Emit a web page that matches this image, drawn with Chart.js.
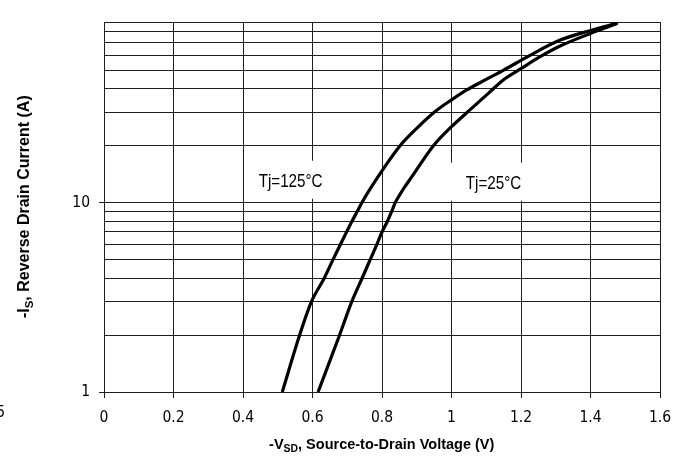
<!DOCTYPE html>
<html>
<head>
<meta charset="utf-8">
<script src="https://cdn.jsdelivr.net/npm/chart.js@4/dist/chart.umd.min.js"></script>
<style>
html,body{margin:0;padding:0;background:#fff;}
#wrap{width:686px;height:457px;position:relative;}
</style>
</head>
<body>
<div id="wrap"><canvas id="c" width="686" height="457"></canvas></div>
<script>
// ---- data ----
const v125 = [0.513, 0.563, 0.597, 0.634, 0.659, 0.680, 0.698, 0.714, 0.729, 0.742, 0.785, 0.852, 0.900, 0.953, 1.000, 1.044, 1.101, 1.149, 1.226, 1.311, 1.398, 1.479];
const i125 = [1.0, 2.0, 3.0, 4.0, 5.0, 6.0, 7.0, 8.0, 9.0, 10.0, 13.4, 20.0, 24.7, 30.3, 34.9, 39.4, 44.9, 50.0, 60.0, 72.0, 81.0, 89.0];
const v25  = [0.616, 0.678, 0.713, 0.743, 0.766, 0.785, 0.800, 0.816, 0.828, 0.838, 0.860, 0.887, 0.948, 1.000, 1.053, 1.106, 1.149, 1.202, 1.255, 1.311, 1.398, 1.475];
const i25  = [1.0, 2.0, 3.0, 4.0, 5.0, 6.0, 7.0, 8.0, 9.0, 10.0, 11.7, 13.8, 20.0, 25.2, 30.9, 37.8, 44.5, 51.3, 59.0, 67.0, 78.0, 88.0];
const seriesNames = ['Tj=125°C', 'Tj=25°C'];
const yGridValues = [1,2,3,4,5,6,7,8,9,10,20,30,40,50,60,70,80,90];
const yLabelValues = [1, 10];
const xMin = 0, xMax = 1.6, xStep = 0.2;
const yMin = 1, yMax = 90;

const NARROW = "'DejaVu Sans Condensed','Liberation Sans',sans-serif";
const SANS = "'Liberation Sans',Arial,sans-serif";
const GRID = '#1e1e1e';

function pts(xs, ys){ return xs.map((x,k)=>({x:x, y:ys[k]})); }

const labelsPlugin = {
  id: 'labels',
  beforeDatasetsDraw(chart){
    const ctx = chart.ctx, xs = chart.scales.x, ys = chart.scales.y;
    const anns = [
      {text: seriesNames[0], v: 0.537, i: 12.9, boxL: -41, boxR: 40},
      {text: seriesNames[1], v: 1.121, i: 12.6, boxL: -50, boxR: 34}
    ];
    ctx.save();
    anns.forEach(a=>{
      const px = xs.getPixelForValue(a.v), py = ys.getPixelForValue(a.i);
      ctx.fillStyle = '#fff';
      ctx.fillRect(px + a.boxL, py - 21, a.boxR - a.boxL, 38);
      ctx.save();
      ctx.translate(px, py);
      ctx.scale(0.8, 1);
      ctx.font = "19px " + SANS;
      ctx.textAlign = 'center';
      ctx.textBaseline = 'middle';
      ctx.fillStyle = '#000';
      ctx.fillText(a.text, 0, 0);
      ctx.restore();
    });
    ctx.restore();
  },
  afterDraw(chart){
    const ctx = chart.ctx;
    ctx.save();
    ctx.fillStyle = '#000';
    function measure(parts, size){
      let w = 0;
      parts.forEach(p=>{ ctx.font = "bold " + (p[1]? size*0.72 : size) + "px " + SANS; w += ctx.measureText(p[0]).width; });
      return w;
    }
    function render(parts, size, x0, y0){
      let x = x0;
      ctx.textAlign = 'left';
      ctx.textBaseline = 'alphabetic';
      parts.forEach(p=>{
        ctx.font = "bold " + (p[1]? size*0.72 : size) + "px " + SANS;
        ctx.fillText(p[0], x, y0 + (p[1]? size*0.22 : 0));
        x += ctx.measureText(p[0]).width;
      });
    }
    const xt = [['-V', false], ['SD', true], [', Source-to-Drain Voltage (V)', false]];
    const xsz = 14.5;
    const xw = measure(xt, xsz);
    render(xt, xsz, 381.7 - xw/2, 448.5);

    const yt = [['-I', false], ['S', true], [', Reverse Drain Current (A)', false]];
    const ysz = 16;
    const yw = measure(yt, ysz);
    ctx.save();
    ctx.translate(29, 206.7);
    ctx.rotate(-Math.PI/2);
    render(yt, ysz, -yw/2, 0);
    ctx.restore();

    // partially cropped label at left edge
    ctx.font = "15.5px " + NARROW;
    ctx.textAlign = 'right';
    ctx.textBaseline = 'middle';
    ctx.fillText('5', 5, 413);
    ctx.restore();
  }
};

new Chart(document.getElementById('c'), {
  type: 'scatter',
  data: {
    datasets: [
      {label: seriesNames[0], data: pts(v125, i125)},
      {label: seriesNames[1], data: pts(v25, i25)}
    ]
  },
  options: {
    responsive: false,
    animation: false,
    devicePixelRatio: 1,
    showLine: true,
    layout: {padding: {left: 0, top: 22, right: 26, bottom: 0}},
    elements: {
      line: {borderColor: '#000', borderWidth: 3.2, tension: 0, cubicInterpolationMode: 'monotone', fill: false},
      point: {radius: 0, hoverRadius: 0}
    },
    plugins: {legend: {display: false}, tooltip: {enabled: false}},
    scales: {
      x: {
        type: 'linear', min: xMin, max: xMax,
        afterFit(s){ s.height = 65; },
        ticks: {stepSize: xStep, color: '#000', padding: 11, font: {family: NARROW, size: 15.5},
          callback: v => String(Math.round(v*10)/10)},
        grid: {color: GRID, lineWidth: 1, tickLength: 6, tickColor: GRID},
        border: {color: GRID, width: 1}
      },
      y: {
        type: 'logarithmic', min: yMin, max: yMax,
        afterFit(s){ s.width = 104; },
        afterBuildTicks(s){ s.ticks = yGridValues.map(v=>({value: v})); },
        ticks: {autoSkip: false, color: '#000', padding: 9, font: {family: NARROW, size: 15.5},
          callback: v => yLabelValues.includes(v) ? String(v) : ''},
        grid: {color: GRID, lineWidth: 1, tickLength: 5,
          tickColor: c => (c.tick && yLabelValues.includes(c.tick.value)) ? GRID : 'rgba(0,0,0,0)'},
        border: {color: GRID, width: 1}
      }
    }
  },
  plugins: [labelsPlugin]
});
</script>
</body>
</html>
